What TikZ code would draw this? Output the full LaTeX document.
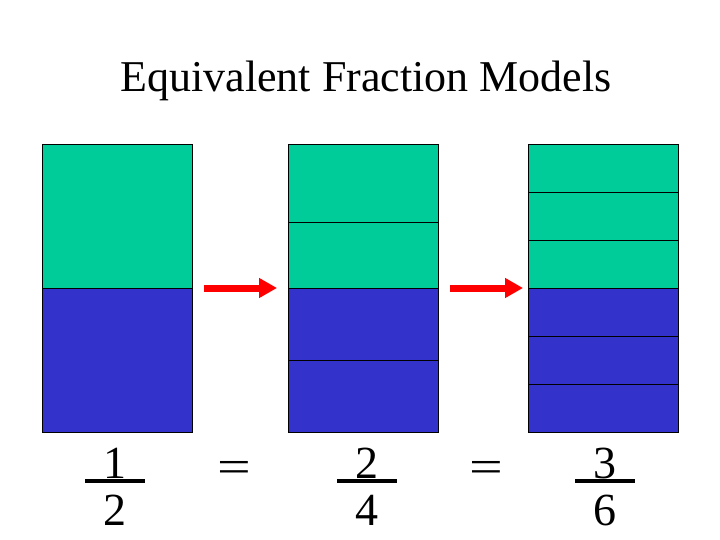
\documentclass[tikz,border=0pt]{standalone}
\usepackage{fontspec}
\setmainfont{Liberation Serif}
\usetikzlibrary{arrows.meta}
\definecolor{fracgreen}{RGB}{0,204,153}
\definecolor{fracblue}{RGB}{51,51,204}

\begin{document}
\begin{tikzpicture}[x=1pt,y=-1pt,
    digit/.style={font=\fontsize{46}{46}\selectfont, inner sep=0pt, anchor=base},
    equals/.style={font=\fontsize{46}{46}\selectfont, inner sep=0pt, xscale=1.3},
    redarrow/.style={draw=red, line width=7pt, -{Triangle[length=18pt,width=19pt]}}]
        % Define dimensions
        \def\boxtop{144}
        \def\boxmid{288}
        \def\boxbot{432}
        \def\boxw{150}
        \useasboundingbox (0,0) rectangle (720,540);
        % Title
        \node[font=\fontsize{44}{44}\selectfont, inner sep=0pt, anchor=base] (title) at (366,92) {Equivalent Fraction Models};
        % Draw the three models
        \foreach \xl/\cuts in {42/{}, 288/{222,360}, 528/{192,240,336,384}} {
            \fill[fracgreen] (\xl,\boxtop) rectangle (\xl+\boxw,\boxmid);
            \fill[fracblue] (\xl,\boxmid) rectangle (\xl+\boxw,\boxbot);
            \foreach \y in \cuts
                \draw[black, line width=0.7pt] (\xl,\y) -- (\xl+\boxw,\y);
            \draw[black, line width=0.7pt] (\xl,\boxmid) -- (\xl+\boxw,\boxmid);
            \draw[black, line width=0.9pt] (\xl,\boxtop) rectangle (\xl+\boxw,\boxbot);
        }
        % Arrows between models
        \coordinate (arrowAs) at (204,288);
        \coordinate (arrowAe) at (277,288);
        \coordinate (arrowBs) at (450,288);
        \coordinate (arrowBe) at (523,288);
        \draw[redarrow] (arrowAs) -- (arrowAe);
        \draw[redarrow] (arrowBs) -- (arrowBe);
        % Fractions below
        \foreach \xc/\n/\d/\name in {115/1/2/half, 367/2/4/quarter, 605/3/6/sixth} {
            \node[digit] (\name num) at (\xc,478) {\n};
            \node[digit] (\name den) at (\xc,525) {\d};
            \draw[black, line width=4pt] (\xc-30,481) -- (\xc+30,481);
        }
        \node[equals] (eqA) at (234,472) {=};
        \node[equals] (eqB) at (486,472) {=};
    \end{tikzpicture}
\end{document}
